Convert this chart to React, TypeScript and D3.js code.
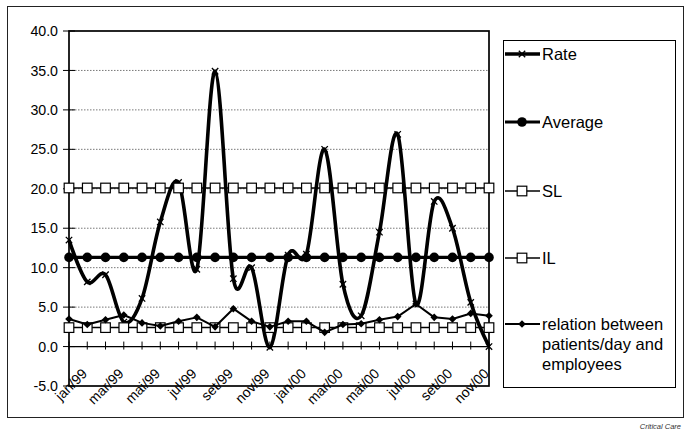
import * as d3 from 'd3'

// months jan/99 .. dez/00
const months = [
  'jan/99', 'fev/99', 'mar/99', 'abr/99', 'mai/99', 'jun/99', 'jul/99', 'ago/99', 'set/99', 'out/99', 'nov/99', 'dez/99',
  'jan/00', 'fev/00', 'mar/00', 'abr/00', 'mai/00', 'jun/00', 'jul/00', 'ago/00', 'set/00', 'out/00', 'nov/00', 'dez/00',
]
const rate = [13.5, 8.2, 9.1, 3.1, 6.1, 15.8, 20.8, 9.8, 34.9, 8.6, 10.0, -0.1, 11.6, 11.7, 25.0, 7.9, 3.9, 14.5, 26.9, 5.4, 18.4, 15.0, 5.6, 0.0]
const average = months.map(() => 11.3)
const sl = months.map(() => 20.1)
const il = months.map(() => 2.4)
const relation = [3.5, 2.8, 3.4, 4.0, 3.0, 2.6, 3.2, 3.7, 2.5, 4.8, 3.2, 2.5, 3.2, 3.2, 1.8, 2.8, 2.9, 3.4, 3.8, 5.4, 3.7, 3.5, 4.2, 3.9]
const yTicks = [-5, 0, 5, 10, 15, 20, 25, 30, 35, 40]
const legendItems = [
  { key: 'rate', label: ['Rate'] },
  { key: 'average', label: ['Average'] },
  { key: 'sl', label: ['SL'] },
  { key: 'il', label: ['IL'] },
  { key: 'relation', label: ['relation between', 'patients/day and', 'employees'] },
]

const FONT = '"Liberation Sans", Arial, sans-serif'

function Marker({ kind, x, y }: { kind: string; x: number; y: number }) {
  if (kind === 'rate') {
    const s = 3.2
    return (
      <path
        d={`M${x - s},${y - s}L${x + s},${y + s}M${x - s},${y + s}L${x + s},${y - s}`}
        stroke="#000"
        strokeWidth={1.3}
      />
    )
  }
  if (kind === 'average') return <circle cx={x} cy={y} r={4.8} fill="#000" />
  if (kind === 'sl' || kind === 'il')
    return <rect x={x - 4.8} y={y - 4.8} width={9.6} height={9.6} fill="#fff" stroke="#000" strokeWidth={1.2} />
  const d = 3.8
  return <path d={`M${x},${y - d}L${x + d},${y}L${x},${y + d}L${x - d},${y}Z`} fill="#000" />
}

export default function App() {
  const x = d3.scalePoint<string>().domain(months).range([69, 489])
  const y = d3.scaleLinear().domain([-5, 40]).range([386, 31])

  const smooth = d3
    .line<number>()
    .x((_, i) => x(months[i]) as number)
    .y((d) => y(d))
    .curve(d3.curveCatmullRom.alpha(0))
  const straight = d3
    .line<number>()
    .x((_, i) => x(months[i]) as number)
    .y((d) => y(d))

  const series = [
    { key: 'rate', data: rate, path: smooth, width: 3.6 },
    { key: 'average', data: average, path: straight, width: 3.2 },
    { key: 'sl', data: sl, path: straight, width: 1.5 },
    { key: 'il', data: il, path: straight, width: 1.5 },
    { key: 'relation', data: relation, path: straight, width: 2 },
  ]

  const legendY: Record<string, number> = { rate: 54, average: 122, sl: 191, il: 258, relation: 324 }

  return (
    <svg width={685} height={432} style={{ position: 'absolute', left: 0, top: 0, background: '#fff' }} fontFamily={FONT}>
      <rect x={7.5} y={6.5} width={676} height={411} fill="#fff" stroke="#222" strokeWidth={1} />

      {/* gridlines */}
      {yTicks
        .filter((t) => t > 0 && t < 40)
        .map((t) => (
          <line key={t} x1={69} x2={489} y1={y(t)} y2={y(t)} stroke="#555" strokeWidth={0.8} strokeDasharray="1.5,1.5" />
        ))}

      {/* plot frame */}
      <rect x={69} y={y(40)} width={420} height={y(-5) - y(40)} fill="none" stroke="#000" strokeWidth={1.7} />

      {/* y axis ticks + labels */}
      {yTicks.map((t) => (
        <g key={t}>
          <line x1={63} x2={75} y1={y(t)} y2={y(t)} stroke="#000" strokeWidth={1} />
          <text x={58} y={y(t)} dy="0.36em" textAnchor="end" fontSize={14.2}>
            {t.toFixed(1)}
          </text>
        </g>
      ))}

      {/* x axis at 0 */}
      <line x1={69} x2={489} y1={y(0)} y2={y(0)} stroke="#000" strokeWidth={1.2} />
      {months.map((m) => (
        <line key={m} x1={x(m)} x2={x(m)} y1={y(0) - 5} y2={y(0) + 3} stroke="#000" strokeWidth={1} />
      ))}
      {months.map((m, i) =>
        i % 2 === 0 ? (
          <text
            key={m}
            transform={`translate(${(x(m) as number) + 19},${y(0) + 28}) rotate(-45)`}
            textAnchor="end"
            fontSize={14}
          >
            {m}
          </text>
        ) : null
      )}

      {/* series */}
      {series.map((s) => (
        <g key={s.key}>
          <path d={s.path(s.data) as string} fill="none" stroke="#000" strokeWidth={s.width} strokeLinejoin="round" />
          {s.data.map((v, i) => (
            <Marker key={i} kind={s.key} x={x(months[i]) as number} y={y(v)} />
          ))}
        </g>
      ))}

      {/* legend */}
      <rect x={503.5} y={40.5} width={172} height={347} fill="#fff" stroke="#000" strokeWidth={1} />
      {legendItems.map((it) => {
        const ly = legendY[it.key]
        const s = series.find((d) => d.key === it.key)!
        return (
          <g key={it.key}>
            <line x1={505} x2={540} y1={ly} y2={ly} stroke="#000" strokeWidth={s.width} />
            <Marker kind={it.key} x={522} y={ly} />
            {it.label.map((l, j) => (
              <text key={j} x={542} y={ly + j * 20} dy="0.36em" fontSize={16.5}>
                {l}
              </text>
            ))}
          </g>
        )
      })}

      <text x={681} y={429} textAnchor="end" fontSize={7.5} fontStyle="italic" fill="#333">
        Critical Care
      </text>
    </svg>
  )
}
